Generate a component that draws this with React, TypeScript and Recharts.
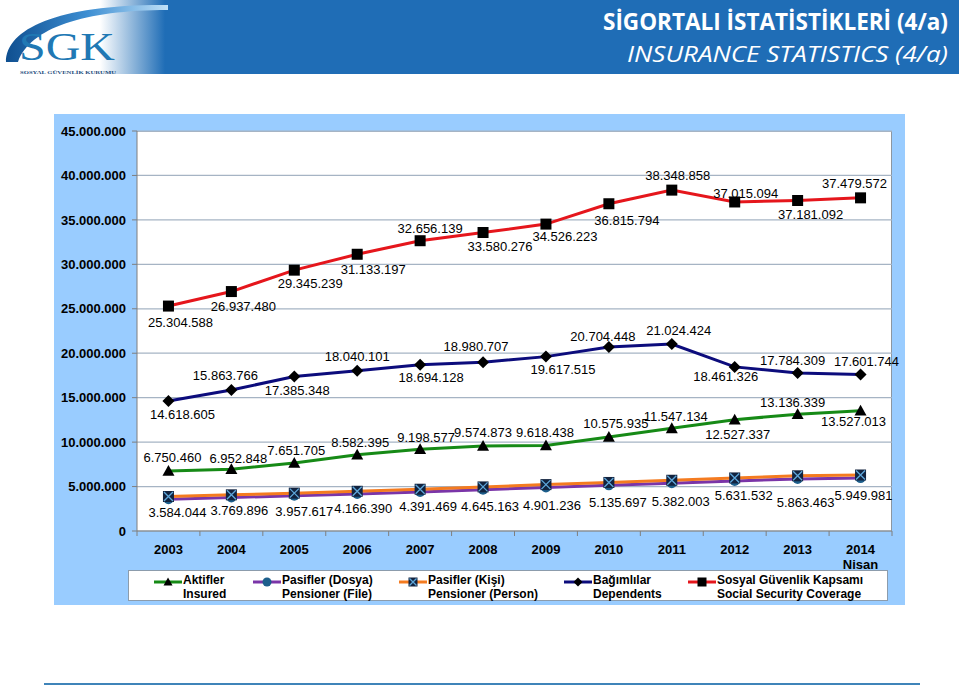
import React from "react";
import { CartesianGrid, LabelList, Line, LineChart, XAxis, YAxis } from "recharts";

const years = ["2003", "2004", "2005", "2006", "2007", "2008", "2009", "2010", "2011", "2012", "2013", "2014"];
const yearNotes = ["", "", "", "", "", "", "", "", "", "", "", "Nisan"];

const aktifler = [6750460, 6952848, 7651705, 8582395, 9198577, 9574873, 9618438, 10575935, 11547134, 12527337, 13136339, 13527013];
const pasifDosya = [3584044, 3769896, 3957617, 4166390, 4391469, 4645163, 4901236, 5135697, 5382003, 5631532, 5863463, 5949981];
// not labelled in the source
const pasifKisi = [3880000, 4070000, 4260000, 4470000, 4700000, 4960000, 5220000, 5460000, 5710000, 5970000, 6210000, 6300000];
const bagimlilar = [14618605, 15863766, 17385348, 18040101, 18694128, 18980707, 19617515, 20704448, 21024424, 18461326, 17784309, 17601744];
const kapsam = [25304588, 26937480, 29345239, 31133197, 32656139, 33580276, 34526223, 36815794, 38348858, 37015094, 37181092, 37479572];

const yTicks = [0, 5000000, 10000000, 15000000, 20000000, 25000000, 30000000, 35000000, 40000000, 45000000];

const data = years.map((year, i) => ({
  year,
  note: yearNotes[i],
  aktif: aktifler[i],
  dosya: pasifDosya[i],
  kisi: pasifKisi[i],
  bagimli: bagimlilar[i],
  kapsam: kapsam[i],
}));

// label placement relative to each point [dx, dy]
const kapsamPos = [[12, 16], [12, 15], [16, 13], [16, 15], [10, -12], [17, 14], [19, 12], [18, 17], [6, -15], [11, -8], [13, 14], [-6, -14]];
const bagimliPos = [[14, 13], [-6, -14], [3, 14], [0, -14], [11, 13], [-7, -16], [17, 13], [-6, -10], [7, -14], [-9, 10], [-5, -12], [6, -13]];
const aktifPos = [[4, -13], [7, -11], [2, -12], [3, -12], [6, -12], [0, -13], [-1, -13], [7, -13], [4, -12], [3, 15], [-5, -12], [-7, 11]];
const dosyaPos = [[9, 13], [8, 13], [10, 16], [6, 15], [8, 15], [7, 17], [6, 18], [9, 17], [9, 18], [9, 15], [8, 24], [3, 17]];

const FONT = "Arial, 'Liberation Sans', sans-serif";
const GREEN = "#168a16";
const PURPLE = "#7a35a8";
const ORANGE = "#f47b20";
const NAVY = "#0c0c7c";
const RED = "#e5161c";
const PANEL = "#99ccff";
const HALF_STEP = 755 / 12 / 2;

const fmt = (v: number) => String(v).replace(/\B(?=(\d{3})+(?!\d))/g, ".");

const makeLabel = (pos: number[][]) => (props: any) => {
  const { x, y, value, index } = props;
  const [dx, dy] = pos[index] || [0, -12];
  return (
    <text key={`l-${index}`} x={x + dx} y={y + dy + 4.5} textAnchor="middle" fontSize={13} fontFamily={FONT} fill="#000">
      {fmt(Number(value))}
    </text>
  );
};

const Triangle = ({ cx, cy, s = 6 }: any) => (
  <path d={`M${cx},${cy - s} L${cx + s},${cy + s * 0.8} L${cx - s},${cy + s * 0.8} Z`} fill="#000" />
);
const Diamond = ({ cx, cy, s = 6 }: any) => (
  <path d={`M${cx},${cy - s} L${cx + s},${cy} L${cx},${cy + s} L${cx - s},${cy} Z`} fill="#000" />
);
const Square = ({ cx, cy, s = 5.5 }: any) => <rect x={cx - s} y={cy - s} width={s * 2} height={s * 2} fill="#000" />;
const Circle = ({ cx, cy, r = 5 }: any) => <circle cx={cx} cy={cy} r={r} fill="#1d5f8c" />;
const XSquare = ({ cx, cy, s = 5.5 }: any) => (
  <g>
    <rect x={cx - s} y={cy - s} width={s * 2} height={s * 2} fill="#12233f" />
    <path d={`M${cx - s + 1},${cy - s + 1} L${cx + s - 1},${cy + s - 1} M${cx + s - 1},${cy - s + 1} L${cx - s + 1},${cy + s - 1}`} stroke="#5fa8dc" strokeWidth={1.3} />
  </g>
);

const dotOf = (Comp: any) => (p: any) => <Comp key={`d-${p.index}`} cx={p.cx} cy={p.cy} />;

function XTick(props: any) {
  const { x, y, payload, index } = props;
  const note = yearNotes[index];
  return (
    <g>
      <line x1={x - HALF_STEP} x2={x - HALF_STEP} y1={y} y2={y + 5} stroke="#7f7f7f" />
      {index === years.length - 1 && <line x1={x + HALF_STEP} x2={x + HALF_STEP} y1={y} y2={y + 5} stroke="#7f7f7f" />}
      <text x={x} y={y + 23} textAnchor="middle" fontSize={13} fontWeight="bold" fontFamily={FONT} fill="#000">
        {payload.value}
      </text>
      {note && (
        <text x={x} y={y + 38} textAnchor="middle" fontSize={13} fontWeight="bold" fontFamily={FONT} fill="#000">
          {note}
        </text>
      )}
    </g>
  );
}

function LegendIcon({ color, Marker }: any) {
  return (
    <svg width={30} height={14} style={{ position: "absolute", left: 0, top: 2 }}>
      <line x1={1} x2={29} y1={7} y2={7} stroke={color} strokeWidth={3} />
      <Marker cx={15} cy={7} s={4.5} r={4.5} />
    </svg>
  );
}

const legendItems = [
  { left: 24, color: GREEN, Marker: Triangle, l1: "Aktifler", l2: "Insured" },
  { left: 123, color: PURPLE, Marker: Circle, l1: "Pasifler (Dosya)", l2: "Pensioner (File)" },
  { left: 269, color: ORANGE, Marker: XSquare, l1: "Pasifler (Kişi)", l2: "Pensioner (Person)" },
  { left: 434, color: NAVY, Marker: Diamond, l1: "Bağımlılar", l2: "Dependents" },
  { left: 558, color: RED, Marker: Square, l1: "Sosyal Güvenlik Kapsamı", l2: "Social Security Coverage" },
];

function Header() {
  return (
    <svg width={959} height={78} style={{ position: "absolute", left: 0, top: 0 }}>
      <defs>
        <linearGradient id="band" x1={0} x2={959} y1={0} y2={0} gradientUnits="userSpaceOnUse">
          <stop offset={100 / 959} stopColor="#ffffff" />
          <stop offset={165 / 959} stopColor="#1f6db6" />
          <stop offset={1} stopColor="#1f6db6" />
        </linearGradient>
        <linearGradient id="swoosh" x1={0} x2={1} y1={0} y2={0}>
          <stop offset={0} stopColor="#0f4f90" />
          <stop offset={0.5} stopColor="#3d8ed2" />
          <stop offset={1} stopColor="#bfe0f7" />
        </linearGradient>
      </defs>
      <rect x={0} y={0} width={959} height={74} fill="url(#band)" />
      <path d="M6,62 C6,28 60,4 168,5 L168,10 C84,10 30,28 18,62 Z" fill="url(#swoosh)" />
      <text x={19} y={60} fontSize={41} fontFamily="'Liberation Serif', 'DejaVu Serif', serif" fill="#2078b4" textLength={96} lengthAdjust="spacingAndGlyphs">
        SGK
      </text>
      <text x={20} y={74} fontSize={5} fontWeight="bold" fontFamily="'Liberation Serif', serif" fill="#1a4a7a" textLength={96} lengthAdjust="spacingAndGlyphs">
        SOSYAL GÜVENLİK KURUMU
      </text>
      <text x={948} y={30} textAnchor="end" fontSize={23} fontWeight="bold" fontFamily="'Open Sans', 'Noto Sans', sans-serif" fill="#fff" textLength={345} lengthAdjust="spacingAndGlyphs">
        SİGORTALI İSTATİSTİKLERİ (4/a)
      </text>
      <text x={948} y={62} textAnchor="end" fontSize={22} fontStyle="italic" fontFamily="'Open Sans', 'Noto Sans', sans-serif" fill="#fff" textLength={321} lengthAdjust="spacingAndGlyphs">
        INSURANCE STATISTICS (4/a)
      </text>
    </svg>
  );
}

export default function App() {
  return (
    <div style={{ position: "absolute", left: 0, top: 0, width: 959, height: 686, background: "#fff", fontFamily: FONT }}>
      <Header />
      <div style={{ position: "absolute", left: 54, top: 114, width: 851, height: 491, background: PANEL }} />
      <div style={{ position: "absolute", left: 137, top: 131, width: 755, height: 400, background: "#fff", borderRight: "1px solid #8c96a0", borderTop: "1px solid #a6b4c4", boxSizing: "border-box" }} />
      <div style={{ position: "absolute", left: 54, top: 114 }}>
        <LineChart width={851} height={491} data={data} margin={{ top: 17, right: 13, bottom: 34, left: 0 }}>
          <CartesianGrid vertical={false} stroke="#a6b4c4" strokeWidth={1.2} />
          <XAxis
            dataKey="year"
            height={40}
            padding={{ left: HALF_STEP, right: HALF_STEP }}
            axisLine={{ stroke: "#7f7f7f" }}
            tickLine={false}
            tickSize={0}
            tickMargin={0}
            tick={<XTick />}
            interval={0}
          />
          <YAxis
            width={83}
            domain={[0, 45000000]}
            ticks={yTicks}
            interval={0}
            tickFormatter={(v: number) => fmt(v)}
            axisLine={{ stroke: "#7f7f7f" }}
            tickLine={{ stroke: "#7f7f7f" }}
            tickSize={5}
            tickMargin={6}
            tick={{ fontSize: 13, fontWeight: "bold", fill: "#000", fontFamily: FONT }}
          />
          <Line dataKey="dosya" stroke={PURPLE} strokeWidth={3} dot={dotOf(Circle)} activeDot={false} isAnimationActive={false}>
            <LabelList dataKey="dosya" content={makeLabel(dosyaPos)} />
          </Line>
          <Line dataKey="kisi" stroke={ORANGE} strokeWidth={3} dot={dotOf(XSquare)} activeDot={false} isAnimationActive={false} />
          <Line dataKey="aktif" stroke={GREEN} strokeWidth={3} dot={dotOf(Triangle)} activeDot={false} isAnimationActive={false}>
            <LabelList dataKey="aktif" content={makeLabel(aktifPos)} />
          </Line>
          <Line dataKey="bagimli" stroke={NAVY} strokeWidth={3} dot={dotOf(Diamond)} activeDot={false} isAnimationActive={false}>
            <LabelList dataKey="bagimli" content={makeLabel(bagimliPos)} />
          </Line>
          <Line dataKey="kapsam" stroke={RED} strokeWidth={3} dot={dotOf(Square)} activeDot={false} isAnimationActive={false}>
            <LabelList dataKey="kapsam" content={makeLabel(kapsamPos)} />
          </Line>
        </LineChart>
      </div>
      <div style={{ position: "absolute", left: 128, top: 570, width: 760, height: 31, background: "#fff", border: "1px solid #8c9cac", boxSizing: "border-box" }}>
        {legendItems.map((it) => (
          <div key={it.l1} style={{ position: "absolute", left: it.left, top: 2, height: 28 }}>
            <LegendIcon color={it.color} Marker={it.Marker} />
            <div style={{ position: "absolute", left: 30, top: 0, whiteSpace: "nowrap", fontSize: 12, fontWeight: "bold", lineHeight: "14px", color: "#000" }}>
              {it.l1}
              <br />
              {it.l2}
            </div>
          </div>
        ))}
      </div>
      <div style={{ position: "absolute", left: 44, top: 683, width: 876, height: 2, background: "#3f84b9" }} />
    </div>
  );
}
